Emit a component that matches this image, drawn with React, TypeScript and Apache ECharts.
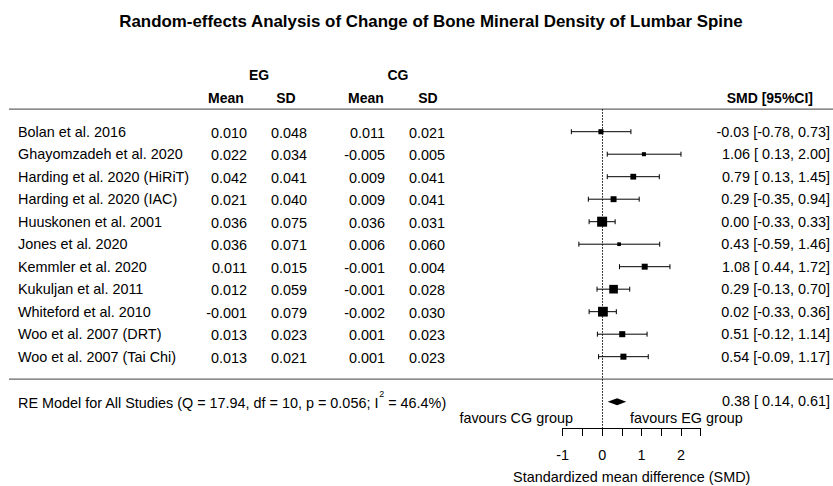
import React, { useEffect, useRef } from 'react';
import * as echarts from 'echarts';

// ---------- data ----------
const studies = [
  'Bolan et al. 2016',
  'Ghayomzadeh et al. 2020',
  'Harding et al. 2020 (HiRiT)',
  'Harding et al. 2020 (IAC)',
  'Huuskonen et al. 2001',
  'Jones et al. 2020',
  'Kemmler et al. 2020',
  'Kukuljan et al. 2011',
  'Whiteford et al. 2010',
  'Woo et al. 2007 (DRT)',
  'Woo et al. 2007 (Tai Chi)',
];
const egMean = [0.010, 0.022, 0.042, 0.021, 0.036, 0.036, 0.011, 0.012, -0.001, 0.013, 0.013];
const egSD = [0.048, 0.034, 0.041, 0.040, 0.075, 0.071, 0.015, 0.059, 0.079, 0.023, 0.021];
const cgMean = [0.011, -0.005, 0.009, 0.009, 0.036, 0.006, -0.001, -0.001, -0.002, 0.001, 0.001];
const cgSD = [0.021, 0.005, 0.041, 0.041, 0.031, 0.060, 0.004, 0.028, 0.030, 0.023, 0.023];
const smd = [-0.03, 1.06, 0.79, 0.29, 0.00, 0.43, 1.08, 0.29, 0.02, 0.51, 0.54];
const ciLower = [-0.78, 0.13, 0.13, -0.35, -0.33, -0.59, 0.44, -0.13, -0.33, -0.12, -0.09];
const ciUpper = [0.73, 2.00, 1.45, 0.94, 0.33, 1.46, 1.72, 0.70, 0.36, 1.14, 1.17];
const weights = [6.6, 4.75, 7.9, 8.15, 15.5, 4.1, 8.2, 13.0, 15.1, 8.35, 8.35];
const pooled = [0.38, 0.14, 0.61]; // estimate, lower, upper
const heterogeneity = [17.94, 10, 0.056, 46.4]; // Q, df, p, I2
const axisTickLabels = [-1, 0, 1, 2];

// ---------- layout / style ----------
const FONT = '"Liberation Sans", Arial, Helvetica, sans-serif';
const FS = 14.4;
const X_LABEL = 18;
const X_EGMEAN = 247;
const X_EGSD = 307;
const X_CGMEAN = 385;
const X_CGSD = 445;
const X_SMD = 830;
const SUMMARY_ROW = 12;

const f3 = (v: number) => v.toFixed(3);
const f2 = (v: number) => v.toFixed(2);
const pad = (s: string) => (s.startsWith('-') ? s : ' ' + s);
const ciText = (e: number, l: number, u: number) => `${f2(e)} [${pad(f2(l))}, ${f2(u)}]`;

const wMin = Math.min(...weights);
const wMax = Math.max(...weights);
const boxSize = (w: number) => 3.7 + ((w - wMin) / (wMax - wMin)) * 6.3;

const txt = (text: string, x: number, y: number, align: string, bold = false, size = FS) => ({
  type: 'text',
  style: {
    text,
    x,
    y,
    fill: '#000',
    fontSize: size,
    fontFamily: FONT,
    fontWeight: bold ? 'bold' : 'normal',
    align,
    verticalAlign: 'middle',
    textAlign: align,
    textVerticalAlign: 'middle',
  },
});

export default function App() {
  const ref = useRef<HTMLDivElement>(null);

  useEffect(() => {
    if (!ref.current) return;
    const chart = echarts.init(ref.current, undefined, { renderer: 'svg' });

    const studyData = studies.map((_, i) => [smd[i], ciLower[i], ciUpper[i], i, weights[i]]);

    const option: any = {
      animation: false,
      backgroundColor: '#fff',
      grid: {
        left: 562.7,
        right: 132.3,
        top: 109.2,
        bottom: 58,
        containLabel: false,
        outerBoundsMode: 'none',
      },
      xAxis: {
        type: 'value',
        min: -1,
        max: 2.5,
        interval: 0.5,
        splitLine: { show: false },
        axisLine: { show: true, onZero: false, lineStyle: { color: '#000', width: 1 } },
        axisTick: { show: true, length: 8, inside: false, lineStyle: { color: '#000', width: 1 } },
        axisLabel: {
          color: '#000',
          fontSize: FS,
          fontFamily: FONT,
          margin: 20,
          formatter: (v: number) => (axisTickLabels.includes(v) ? String(v) : ''),
        },
        name: 'Standardized mean difference (SMD)',
        nameLocation: 'middle',
        nameGap: 42,
        nameTextStyle: { color: '#000', fontSize: FS, fontFamily: FONT },
      },
      yAxis: {
        type: 'value',
        inverse: true,
        min: -1,
        max: 13.17,
        show: false,
      },
      graphic: [
        {
          type: 'text',
          style: {
            text: 'Random-effects Analysis of Change of Bone Mineral Density of Lumbar Spine',
            x: 431,
            y: 21,
            fill: '#000',
            fontSize: 16.9,
            fontWeight: 'bold',
            fontFamily: FONT,
            align: 'center',
            verticalAlign: 'middle',
            textAlign: 'center',
            textVerticalAlign: 'middle',
          },
        },
        txt('EG', 259, 75, 'center', true, 14),
        txt('CG', 398, 75, 'center', true, 14),
        txt('Mean', 226, 98, 'center', true, 14),
        txt('SD', 286, 98, 'center', true, 14),
        txt('Mean', 366, 98, 'center', true, 14),
        txt('SD', 428, 98, 'center', true, 14),
        txt('SMD [95%CI]', 813, 98, 'right', true, 14),
        txt('favours CG group', 573, 418, 'right'),
        txt('favours EG group', 630, 418, 'left'),
      ],
      series: [
        {
          type: 'custom',
          name: 'separators',
          data: [[-1], [11]],
          renderItem: (_p: any, api: any) => {
            const y = api.coord([0, api.value(0)])[1];
            return {
              type: 'line',
              shape: { x1: 9, y1: y, x2: 833, y2: y },
              style: { stroke: '#666', lineWidth: 1.3 },
            };
          },
        },
        {
          type: 'custom',
          name: 'studies',
          data: studyData,
          encode: { x: 0, y: 3 },
          renderItem: (params: any, api: any) => {
            const i = params.dataIndex;
            const row = api.value(3);
            const [xm, y] = api.coord([api.value(0), row]);
            const xl = api.coord([api.value(1), row])[0];
            const xu = api.coord([api.value(2), row])[0];
            const s = boxSize(api.value(4));
            const ln = (x1: number, y1: number, x2: number, y2: number) => ({
              type: 'line',
              shape: { x1, y1, x2, y2 },
              style: { stroke: '#000', lineWidth: 1 },
            });
            return {
              type: 'group',
              children: [
                ln(xl, y, xu, y),
                ln(xl, y - 2.5, xl, y + 2.5),
                ln(xu, y - 2.5, xu, y + 2.5),
                { type: 'rect', shape: { x: xm - s / 2, y: y - s / 2, width: s, height: s }, style: { fill: '#000' } },
                txt(studies[i], X_LABEL, y, 'left'),
                txt(f3(egMean[i]), X_EGMEAN, y + 1, 'right'),
                txt(f3(egSD[i]), X_EGSD, y + 1, 'right'),
                txt(f3(cgMean[i]), X_CGMEAN, y + 1, 'right'),
                txt(f3(cgSD[i]), X_CGSD, y + 1, 'right'),
                txt(ciText(smd[i], ciLower[i], ciUpper[i]), X_SMD, y, 'right'),
              ],
            };
          },
          markLine: {
            silent: true,
            symbol: 'none',
            label: { show: false },
            lineStyle: { color: '#000', type: [1.5, 1.5], width: 1 },
            data: [{ xAxis: 0 }],
          },
        },
        {
          type: 'custom',
          name: 'RE Model',
          data: [[pooled[0], pooled[1], pooled[2], SUMMARY_ROW]],
          encode: { x: 0, y: 3 },
          renderItem: (_p: any, api: any) => {
            const row = api.value(3);
            const [xm, y] = api.coord([api.value(0), row]);
            const xl = api.coord([api.value(1), row])[0];
            const xu = api.coord([api.value(2), row])[0];
            const h = 3.5;
            const [Q, df, p, I2] = heterogeneity;
            return {
              type: 'group',
              children: [
                {
                  type: 'polygon',
                  shape: { points: [[xl, y], [xm, y - h], [xu, y], [xm, y + h]] },
                  style: { fill: '#000' },
                },
                {
                  type: 'text',
                  style: {
                    text: `{n|RE Model for All Studies (Q = ${Q.toFixed(2)}, df = ${df}, p = ${p.toFixed(3)}; I}{s|2}{n| = ${I2.toFixed(1)}%)}`,
                    x: X_LABEL,
                    y: y - 2,
                    align: 'left',
                    verticalAlign: 'middle',
                    textAlign: 'left',
                    textVerticalAlign: 'middle',
                    rich: {
                      n: { fontSize: FS, fontFamily: FONT, fill: '#000', lineHeight: 20, verticalAlign: 'bottom' },
                      s: { fontSize: 9, fontFamily: FONT, fill: '#000', lineHeight: 14, verticalAlign: 'top' },
                    },
                  },
                },
                txt(ciText(pooled[0], pooled[1], pooled[2]), X_SMD, y - 1, 'right'),
              ],
            };
          },
        },
      ],
    };

    chart.setOption(option);
    return () => chart.dispose();
  }, []);

  return (
    <div
      ref={ref}
      style={{ position: 'absolute', left: 0, top: 0, width: 833, height: 486, background: '#fff' }}
    />
  );
}
